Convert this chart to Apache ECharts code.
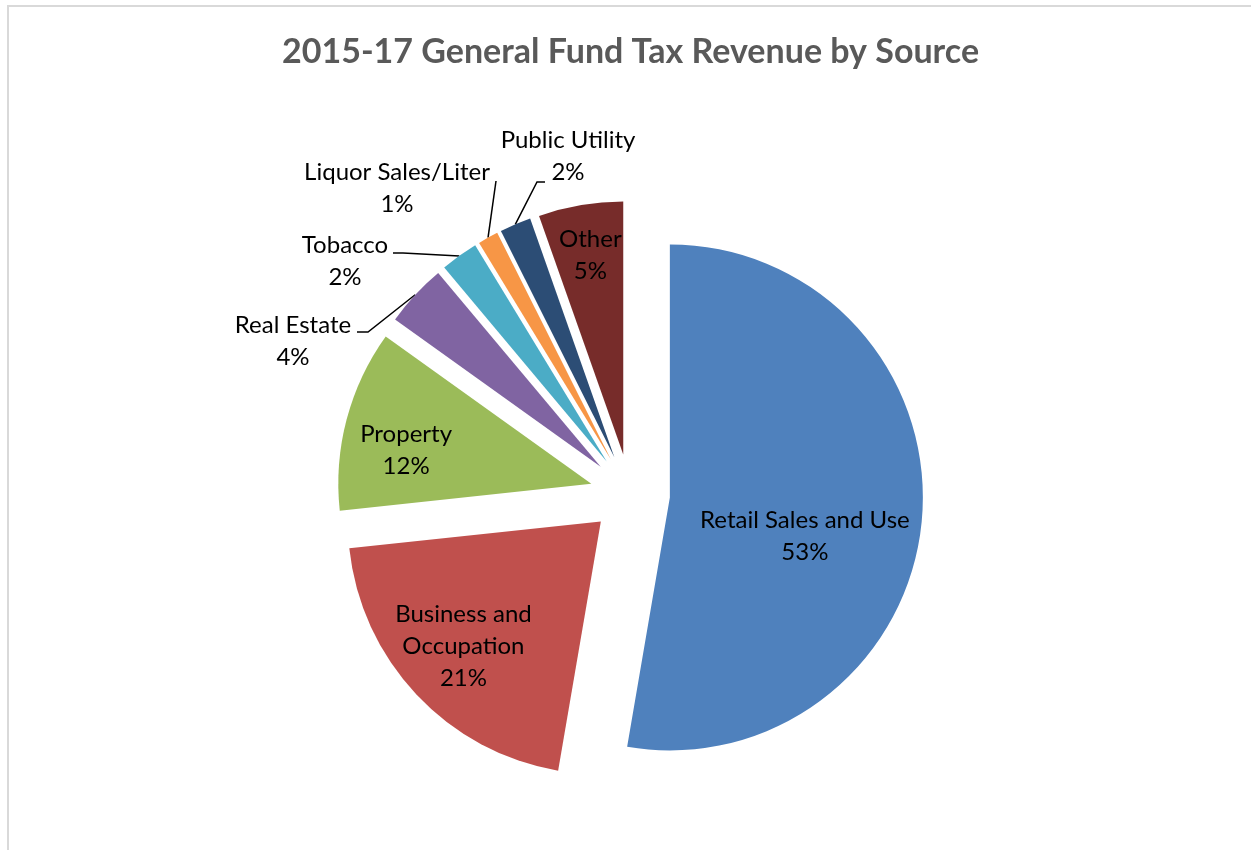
<!DOCTYPE html>
<html>
<head>
  <meta charset="utf-8">
  <title>2015-17 General Fund Tax Revenue by Source</title>
  <script src="https://cdn.jsdelivr.net/npm/echarts@6/dist/echarts.min.js"></script>
  <style>
    html, body { margin: 0; padding: 0; background: #fff; }
    #frame { position: absolute; left: 7px; top: 5px; right: -10px; bottom: -10px;
             border-top: 2px solid #d9d9d9; border-left: 2px solid #d9d9d9; }
    #chart1 { position: absolute; left: 0; top: 0; width: 1251px; height: 850px; }
  </style>
</head>
<body>
<div id="frame"></div>
<div id="chart1"></div>
<script type="text/javascript">
  // slices, clockwise from 12 o'clock (share of tax revenue, %)
  const sources = ['Retail Sales and Use', 'Business and\nOccupation', 'Property', 'Real Estate',
                   'Tobacco', 'Liquor Sales/Liter', 'Public Utility', 'Other'];
  const shares = [52.7, 20.6, 11.6, 4.0, 2.4, 1.3, 2.0, 5.4];
  const colors = ['#4F81BD', '#C0504D', '#9BBB59', '#8064A2', '#4BACC6', '#F79646', '#2C4D75', '#772C2A'];
  const outsideLabels = ['Real Estate', 'Tobacco', 'Liquor Sales/Liter', 'Public Utility'];

  // label placement, Excel "best fit" style
  const explode = 40;
  const insideNudge = { 0: [6, 28], 1: [-43, 36], 2: [-60, -1], 7: [-11, -72] };
  // outside labels: centre of the text block, plus leader end / elbow relative to it
  const outsideSpot = { 3: [293, 341], 4: [345, 261], 5: [397, 188], 6: [568, 156] };
  const leaderEnd = { 3: [[75, -9], [64, -9]], 4: [[58, -8], [48, -8]], 5: [[99, -7], [99, -7]], 6: [[-31, 26], [-23, 26]] };

  const total = shares.reduce((a, b) => a + b, 0);
  // translation of an exploded slice (labels and leader lines are laid out before it)
  function sliceShift(i) {
    let cum = 0;
    for (let j = 0; j < i; j++) cum += shares[j];
    const a = 2 * Math.PI * (cum + shares[i] / 2) / total;
    return [explode * Math.sin(a), -explode * Math.cos(a)];
  }

  let myChart1 = echarts.init(document.getElementById('chart1'));

  const pieData = sources.map((name, i) => {
    const outside = outsideLabels.indexOf(name) >= 0;
    return {
      name: name,
      value: shares[i],
      selected: true,
      itemStyle: { color: colors[i] },
      label: { position: outside ? 'outside' : 'inside' },
      labelLine: { show: outside, length: 10, length2: 10 }
    };
  });

  myChart1.setOption({
    animation: false,
    title: {
      text: '2015-17 General Fund Tax Revenue by Source',
      left: 277,
      top: 30,
      textStyle: { fontFamily: 'Lato', fontSize: 34, fontWeight: 'bold', color: '#595959' }
    },
    series: [{
      type: 'pie',
      center: [630, 494],
      radius: 253,
      startAngle: 90,
      clockwise: true,
      percentPrecision: 0,
      avoidLabelOverlap: false,
      selectedMode: 'multiple',
      selectedOffset: explode,
      emphasis: { disabled: true },
      label: {
        formatter: '{b}\n{d}%',
        fontFamily: 'Lato',
        fontSize: 24,
        lineHeight: 32,
        color: '#000',
        align: 'center'
      },
      labelLine: { lineStyle: { color: '#000', width: 1.5 }, smooth: false },
      labelLayout: function (p) {
        const i = p.dataIndex;
        if (outsideSpot[i]) {
          const s = outsideSpot[i];
          const sh = sliceShift(i);
          const r = p.labelRect;
          const ax = r.x + r.width, ay = r.y + r.height / 2;
          const tx = s[0] - sh[0], ty = s[1] - sh[1];
          const le = leaderEnd[i];
          const start = p.labelLinePoints ? p.labelLinePoints[0] : [tx, ty];
          return {
            dx: tx - ax,
            dy: ty - ay,
            align: 'center',
            verticalAlign: 'middle',
            labelLinePoints: [start, [tx + le[0][0], ty + le[0][1]], [tx + le[1][0], ty + le[1][1]]]
          };
        }
        const n = insideNudge[i] || [0, 0];
        return { dx: n[0], dy: n[1] };
      },
      data: pieData
    }]
  });
</script>
</body>
</html>
